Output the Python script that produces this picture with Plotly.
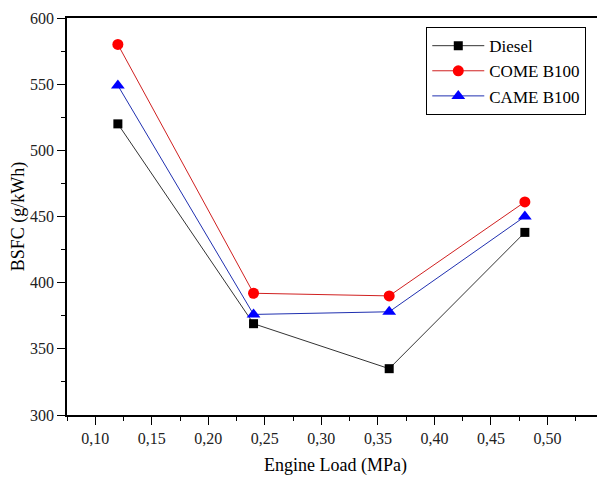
import plotly.graph_objects as go

load = [0.12, 0.24, 0.36, 0.48]
diesel = [520, 369, 335, 438]
come = [580, 392, 390, 461]
came = [549, 376, 378, 450]

fig = go.Figure()
fig.add_trace(go.Scatter(x=load, y=diesel, name="Diesel", mode="lines+markers",
                         line=dict(color="#333333", width=1),
                         marker=dict(symbol="square", size=9, color="black")))
fig.add_trace(go.Scatter(x=load, y=come, name="COME B100", mode="lines+markers",
                         line=dict(color="#d02020", width=1),
                         marker=dict(symbol="circle", size=11, color="red")))
fig.add_trace(go.Scatter(x=load, y=came, name="CAME B100", mode="lines+markers",
                         line=dict(color="#2030b0", width=1),
                         marker=dict(symbol="triangle-up", size=12, color="blue")))

font = "Liberation Serif"
fig.update_layout(
    width=597, height=474,
    margin=dict(l=59, r=1, t=10, b=67, autoexpand=False),
    paper_bgcolor="white", plot_bgcolor="white",
    separators=",.",
    font=dict(family=font, size=16, color="#222"),
    showlegend=True,
    legend=dict(x=0.967, y=0.977, xanchor="right", yanchor="top",
                bordercolor="black", borderwidth=1, bgcolor="white",
                font=dict(family=font, size=17, color="black"),
                tracegroupgap=0, itemwidth=52),
    xaxis=dict(range=[0.075, 0.55], tickvals=[0.10, 0.15, 0.20, 0.25, 0.30, 0.35, 0.40, 0.45, 0.50],
               tickformat=".2f", ticks="outside", ticklen=8, tickwidth=1.2, tickcolor="black",
               minor=dict(ticks="outside", ticklen=4, tickcolor="black", dtick=0.025, tick0=0.075),
               showline=True, linecolor="black", linewidth=1.5, mirror=True,
               showgrid=False, zeroline=False, automargin=False,
               title=dict(text="Engine Load (MPa)", font=dict(family=font, size=18, color="black"), standoff=12)),
    yaxis=dict(range=[300, 600], dtick=50, ticks="outside", ticklen=8, tickwidth=1.2, tickcolor="black",
               minor=dict(ticks="outside", ticklen=4, tickcolor="black", dtick=25),
               showline=True, linecolor="black", linewidth=1.5, mirror=True,
               showgrid=False, zeroline=False, automargin=False,
               title=dict(text="BSFC (g/kWh)", font=dict(family=font, size=18, color="black"), standoff=6)),
)
fig.write_html("out.html")
